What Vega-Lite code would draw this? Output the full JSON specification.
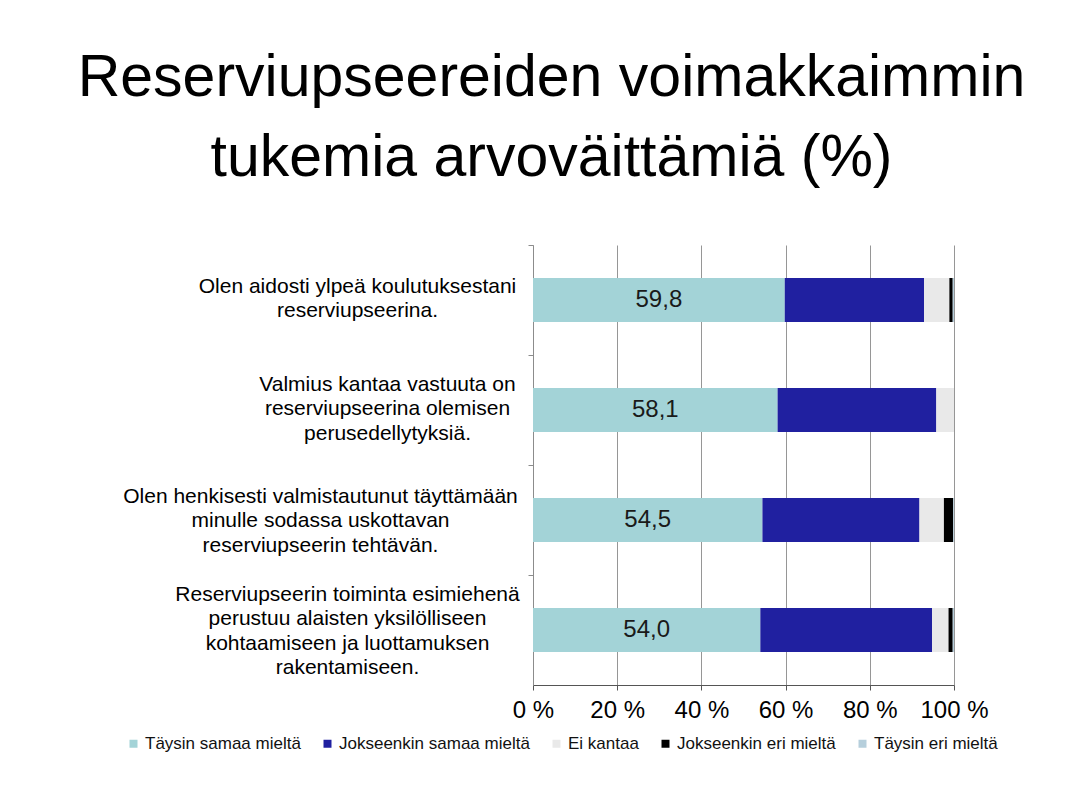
{
  "$schema": "https://vega.github.io/schema/vega-lite/v6.json",
  "autosize": {"type": "none"},
  "padding": {"left": 533, "top": 245, "right": 118, "bottom": 125},
  "width": 421,
  "height": 440,
  "background": "white",
  "config": {
    "font": "Liberation Sans",
    "view": {"stroke": null},
    "locale": {"number": {"decimal": ",", "thousands": " ", "grouping": [3], "currency": ["", " €"]}}
  },
  "title": {
    "text": ["Reserviupseereiden voimakkaimmin", "tukemia arvoväittämiä (%)"],
    "font": "Liberation Sans",
    "fontSize": 59,
    "fontWeight": "normal",
    "lineHeight": 80,
    "color": "#000000",
    "anchor": "middle",
    "frame": "group",
    "dx": -192,
    "offset": 57
  },
  "data": {
    "values": [
      {"q": "q1", "cat": "Täysin samaa mieltä", "ord": 1, "value": 59.8},
      {"q": "q1", "cat": "Jokseenkin samaa mieltä", "ord": 2, "value": 33.1},
      {"q": "q1", "cat": "Ei kantaa", "ord": 3, "value": 6.0},
      {"q": "q1", "cat": "Jokseenkin eri mieltä", "ord": 4, "value": 0.8},
      {"q": "q1", "cat": "Täysin eri mieltä", "ord": 5, "value": 0.3},
      {"q": "q2", "cat": "Täysin samaa mieltä", "ord": 1, "value": 58.1},
      {"q": "q2", "cat": "Jokseenkin samaa mieltä", "ord": 2, "value": 37.7},
      {"q": "q2", "cat": "Ei kantaa", "ord": 3, "value": 4.2},
      {"q": "q2", "cat": "Jokseenkin eri mieltä", "ord": 4, "value": 0.0},
      {"q": "q2", "cat": "Täysin eri mieltä", "ord": 5, "value": 0.0},
      {"q": "q3", "cat": "Täysin samaa mieltä", "ord": 1, "value": 54.5},
      {"q": "q3", "cat": "Jokseenkin samaa mieltä", "ord": 2, "value": 37.3},
      {"q": "q3", "cat": "Ei kantaa", "ord": 3, "value": 5.8},
      {"q": "q3", "cat": "Jokseenkin eri mieltä", "ord": 4, "value": 2.2},
      {"q": "q3", "cat": "Täysin eri mieltä", "ord": 5, "value": 0.2},
      {"q": "q4", "cat": "Täysin samaa mieltä", "ord": 1, "value": 54.0},
      {"q": "q4", "cat": "Jokseenkin samaa mieltä", "ord": 2, "value": 40.8},
      {"q": "q4", "cat": "Ei kantaa", "ord": 3, "value": 3.9},
      {"q": "q4", "cat": "Jokseenkin eri mieltä", "ord": 4, "value": 1.0},
      {"q": "q4", "cat": "Täysin eri mieltä", "ord": 5, "value": 0.3}
    ]
  },
  "encoding": {
    "y": {
      "field": "q",
      "type": "nominal",
      "sort": ["q1", "q2", "q3", "q4"],
      "scale": {"paddingInner": 0.6, "paddingOuter": 0.3},
      "axis": {
        "title": null,
        "domainColor": "#8c8c8c",
        "tickColor": "#8c8c8c",
        "tickSize": 5,
        "tickOffset": -55,
        "labelOffset": {"expr": "datum.value == 'q1' ? 41 : datum.value == 'q2' ? 29 : datum.value == 'q3' ? 31 : 19"},
        "labelFont": "Liberation Sans",
        "labelFontSize": 21,
        "labelColor": "#000000",
        "labelLineHeight": 24.5,
        "labelAlign": "center",
        "labelBaseline": "middle",
        "labelPadding": {"expr": "datum.value == 'q1' ? 171 : datum.value == 'q2' ? 141 : datum.value == 'q3' ? 208 : 181"},
        "labelLimit": 0,
        "labelExpr": "datum.value == 'q1' ? ['Olen aidosti ylpeä koulutuksestani', 'reserviupseerina.'] : datum.value == 'q2' ? ['Valmius kantaa vastuuta on', 'reserviupseerina olemisen', 'perusedellytyksiä.'] : datum.value == 'q3' ? ['Olen henkisesti valmistautunut täyttämään', 'minulle sodassa uskottavan', 'reserviupseerin tehtävän.'] : ['Reserviupseerin toiminta esimiehenä', 'perustuu alaisten yksilölliseen', 'kohtaamiseen ja luottamuksen', 'rakentamiseen.']"
      }
    }
  },
  "layer": [
    {
      "mark": {"type": "bar"},
      "encoding": {
        "x": {
          "field": "value",
          "type": "quantitative",
          "stack": "zero",
          "scale": {"domain": [0, 100], "nice": false},
          "axis": {
            "title": null,
            "values": [0, 20, 40, 60, 80, 100],
            "labelExpr": "format(datum.value, 'd') + ' %'",
            "grid": true,
            "gridColor": "#969696",
            "gridWidth": 1,
            "domainColor": "#555555",
            "tickColor": "#555555",
            "tickSize": 5,
            "labelFont": "Liberation Sans",
            "labelFontSize": 24,
            "labelColor": "#000000",
            "labelPadding": 8,
            "labelFlush": false
          }
        },
        "color": {
          "field": "cat",
          "type": "nominal",
          "scale": {
            "domain": ["Täysin samaa mieltä", "Jokseenkin samaa mieltä", "Ei kantaa", "Jokseenkin eri mieltä", "Täysin eri mieltä"],
            "range": ["#a3d3d7", "#2020a0", "#e9e9e9", "#000000", "#b6cfdc"]
          },
          "legend": {
            "title": null,
            "orient": "none",
            "direction": "horizontal",
            "legendX": -408,
            "legendY": 490,
            "symbolType": "square",
            "symbolSize": 64,
            "symbolStrokeWidth": 0,
            "labelFont": "Liberation Sans",
            "labelFontSize": 17,
            "labelColor": "#111111",
            "labelOffset": 3,
            "columnPadding": 18,
            "labelLimit": 0
          }
        },
        "order": {"field": "ord", "type": "quantitative"}
      }
    },
    {
      "transform": [{"filter": "datum.ord == 1"}],
      "mark": {"type": "text", "font": "Liberation Sans", "fontSize": 24, "color": "#1a1a1a", "align": "center", "baseline": "middle"},
      "encoding": {
        "x": {"field": "value", "type": "quantitative", "stack": "zero", "bandPosition": 0.5},
        "text": {"field": "value", "type": "quantitative", "format": ".1f"}
      }
    }
  ]
}
